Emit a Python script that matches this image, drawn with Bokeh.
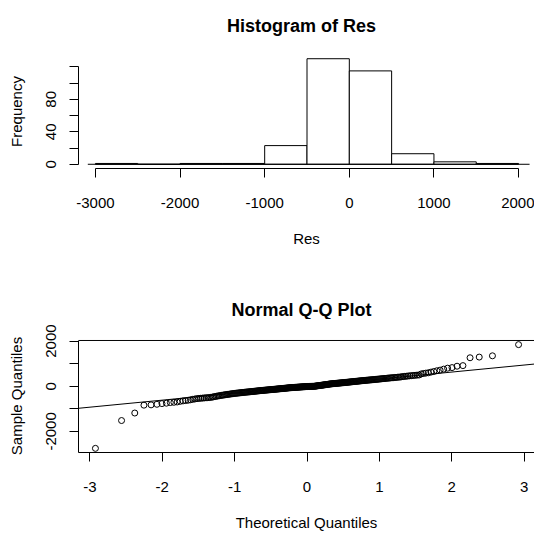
from statistics import NormalDist
import numpy as np
from bokeh.plotting import figure
from bokeh.layouts import column
from bokeh.models import Range1d, FixedTicker, Slope, Span
from bokeh.core.properties import value
from bokeh.embed import file_html
from bokeh.resources import INLINE

# ---------------- data ----------------
hist_edges = [-3000, -2500, -2000, -1500, -1000, -500, 0, 500, 1000, 1500, 2000]
hist_counts = [1, 0, 1, 1, 23, 130, 115, 13, 3, 1]
hist_baseline_x = [-3090, 2130]
hist_x_ticks = [-3000, -2000, -1000, 0, 1000, 2000]
hist_x_labels = ["-3000", "-2000", "-1000", "0", "1000", "2000"]
hist_y_ticks = [0, 20, 40, 60, 80, 100, 120]
hist_y_labels = ["0", "", "40", "", "80", "", ""]

# sorted residuals (sample quantiles)
res = [
    -2752, -1520, -1187,
    -839, -826, -800, -770, -752, -725, -712, -698, -670, -650, -635, -620,
    -600, -580, -565, -548, -540, -532, -525, -518, -512, -506, -501,
    -492, -480, -468, -455,
    -443, -432, -421, -411, -401, -392, -384, -376, -368, -360,
    -353, -346, -339, -332, -326, -320, -314, -309, -304, -299,
    -294, -289, -284, -279, -274, -269, -265, -261, -258, -255,
    -251, -247, -243, -239, -235, -231, -227, -223, -219, -215, -211, -207,
    -204, -200, -196, -193, -189, -186, -182, -179,
    -176, -173, -170, -167, -164, -161, -158, -155, -152, -149,
    -146, -143, -140, -137, -134, -131, -128, -125, -122, -120,
    -117, -114, -111, -108, -105, -102, -99, -96, -93, -90,
    -87, -84, -81, -78, -75, -72, -69, -67, -64, -62,
    -60, -58, -56, -54, -52, -50, -48, -46, -44, -42, -40, -38,
    -36, -34, -32, -30, -28, -26, -24, -22, -20, -18, -16, -14,
    -13, -12, -11, -10, -9, -8, -7, -6, -5, -4, -3, -2,
    2, 6, 10, 14, 18, 22, 26, 30, 34, 38, 42, 46,
    50, 54, 58, 62, 66, 70, 74, 78, 83, 88, 93, 98,
    101, 104, 107, 110, 113, 116, 119, 122, 125, 128,
    131, 134, 137, 140, 143, 146, 149, 152, 155, 158,
    161, 164, 168, 171, 175, 178, 182, 185, 189, 192, 196, 199, 203, 206, 210, 214, 218,
    221, 225, 229, 233, 236, 240, 244, 248, 252, 255, 259, 263,
    267, 271, 274, 278, 282, 286, 290, 294, 297, 301, 305,
    310, 315, 320, 325, 330, 335, 340, 345, 350, 355,
    360, 365, 370, 375, 380, 386, 392, 398, 403, 408,
    420, 428, 436, 444, 452, 460, 468, 476, 484, 492, 498,
    545, 565, 580, 596, 625, 652, 685, 713, 757, 800, 826, 887, 913,
    1261, 1291, 1348, 1843,
]
qq_x_ticks = [-3, -2, -1, 0, 1, 2, 3]
qq_x_labels = ["-3", "-2", "-1", "0", "1", "2", "3"]
qq_y_ticks = [-2000, -1000, 0, 1000, 2000]
qq_y_labels = ["-2000", "", "0", "", "2000"]

FONT = "Liberation Sans"

# ---------------- layout (pixels) ----------------
W = 534
LEFT = 78            # left edge of plot region
REG_W = 457          # R plot region width (its last column falls just outside the window)
TITLE_X = 301        # title centre (page pixels)
TITLE_BASE = 25      # title baseline, from the top of each title strip
# histogram: title strip height, panel height, panel top margin, bottom margin
S1, H1, MT1, BOT1 = 40, 244, 14, 116
# Q-Q plot (1px headroom above the box so its top line shows)
S2, H2, MT2, BOT2 = 35, 214, 20, 78


def base_figure(height, top, bottom, x_range, y_range):
    p = figure(width=W, height=height, output_backend="svg", toolbar_location=None,
               x_range=x_range, y_range=y_range,
               min_border_left=LEFT, min_border_right=0, min_border_top=top,
               min_border_bottom=bottom)
    p.grid.visible = False
    p.outline_line_color = None
    p.background_fill_color = "white"
    p.border_fill_color = "white"
    return p


def title_strip(text, height):
    t = base_figure(height, 0, 0, Range1d(LEFT, W), Range1d(0, height))
    t.xaxis.visible = False
    t.yaxis.visible = False
    t.text(x=[TITLE_X], y=[height - TITLE_BASE], text=[text],
           text_align="center", text_baseline="alphabetic",
           text_font=value(FONT), text_font_size=value("18px"),
           text_font_style="bold", text_color="black")
    return t


def style_axis(ax, ticks, labels, vertical=False):
    ax.ticker = FixedTicker(ticks=ticks)
    ax.major_label_overrides = {t: l for t, l in zip(ticks, labels)}
    ax.major_tick_out = 9
    ax.major_tick_in = 0
    ax.minor_tick_out = 0
    ax.minor_tick_in = 0
    ax.axis_line_color = "black"
    ax.major_tick_line_color = "black"
    ax.major_label_text_font = FONT
    ax.major_label_text_font_size = "15px"
    ax.major_label_text_color = "black"
    ax.axis_label_text_font = FONT
    ax.axis_label_text_font_size = "15px"
    ax.axis_label_text_font_style = "normal"
    ax.axis_label_text_color = "black"
    if vertical:
        ax.major_label_orientation = "vertical"
        ax.major_label_standoff = 13
        ax.axis_label_standoff = 19
    else:
        ax.major_label_standoff = 20
        ax.axis_label_standoff = 19


def x_range_for(xlim):
    ux = (xlim[1] - xlim[0]) / REG_W
    return Range1d(xlim[0], xlim[0] + (W - LEFT) * ux)


# ---------------- histogram ----------------
t1 = title_strip("Histogram of Res", S1)
x_lo, x_hi = hist_edges[0], hist_edges[-1]
x_ext = 0.04 * (x_hi - x_lo)
y_hi = max(hist_counts)
p1 = base_figure(H1, MT1, BOT1, x_range_for((x_lo - x_ext, x_hi + x_ext)),
                 Range1d(-0.04 * y_hi, 1.04 * y_hi))

p1.quad(left=hist_edges[:-1], right=hist_edges[1:], bottom=0, top=hist_counts,
        fill_color="white", line_color="black", line_width=1)
p1.line(x=hist_baseline_x, y=[0, 0], line_color="black", line_width=1)

hx = p1.below[0]
hy = p1.left[0]
style_axis(hx, hist_x_ticks, hist_x_labels)
hx.bounds = (hist_x_ticks[0], hist_x_ticks[-1])
hx.axis_label = "Res"
style_axis(hy, hist_y_ticks, hist_y_labels, vertical=True)
hy.bounds = (hist_y_ticks[0], hist_y_ticks[-1])
hy.axis_label = "Frequency"

# ---------------- normal Q-Q ----------------
n = len(res)
nd = NormalDist()
theo = [nd.inv_cdf((i + 0.5) / n) for i in range(n)]
q1, q3 = np.quantile(res, [0.25, 0.75])
z1, z3 = nd.inv_cdf(0.25), nd.inv_cdf(0.75)
slope = (q3 - q1) / (z3 - z1)
intercept = q1 - slope * z1

t2 = title_strip("Normal Q-Q Plot", S2)
t_lo, t_hi = theo[0], theo[-1]
t_ext = 0.04 * (t_hi - t_lo)
r_lo, r_hi = min(res), max(res)
r_ext = 0.04 * (r_hi - r_lo)
box_lo, box_hi = r_lo - r_ext, r_hi + r_ext
uy = (box_hi - box_lo) / (H2 - MT2 - BOT2 - 1)
p2 = base_figure(H2, MT2, BOT2, x_range_for((t_lo - t_ext, t_hi + t_ext)),
                 Range1d(box_lo, box_hi + uy))

qx = p2.below[0]
qy = p2.left[0]
style_axis(qx, qq_x_ticks, qq_x_labels)
qx.axis_label = "Theoretical Quantiles"
style_axis(qy, qq_y_ticks, qq_y_labels, vertical=True)
qy.bounds = (box_lo, box_hi)
qy.axis_label = "Sample Quantiles"

# top edge of the plot box (the right edge falls outside the window)
p2.add_layout(Span(location=box_hi, dimension="width", line_color="black", line_width=1))

p2.add_layout(Slope(gradient=slope, y_intercept=intercept, line_color="black", line_width=1))
p2.scatter(theo, res, marker="circle", size=6, fill_color=None,
           line_color="black", line_width=1)

layout = column(t1, p1, t2, p2)
open("out.html", "w").write(file_html(layout, INLINE))
